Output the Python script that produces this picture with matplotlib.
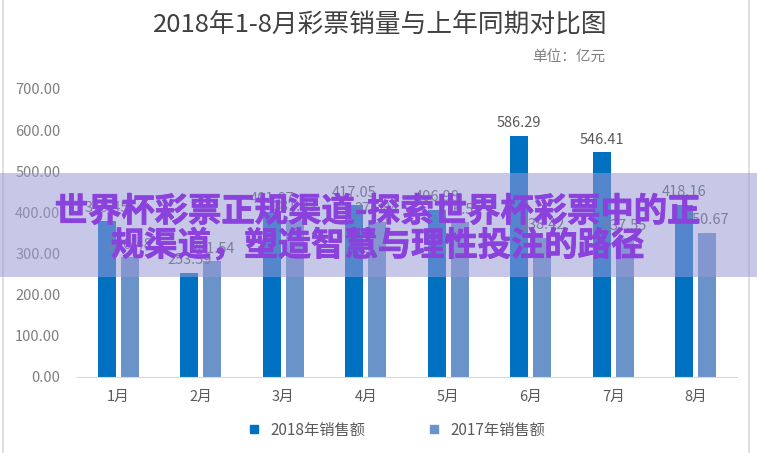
import matplotlib
matplotlib.use("Agg")
import matplotlib.pyplot as plt
import matplotlib.patheffects as pe
import numpy as np
from matplotlib.lines import Line2D
from matplotlib.patches import Rectangle

plt.rcParams["font.family"] = ["Noto Sans CJK SC", "DejaVu Sans"]

months = ["1月", "2月", "3月", "4月", "5月", "6月", "7月", "8月"]
sales_2018 = [379.45, 253.59, 401.87, 417.05, 406.98, 586.29, 546.41, 418.16]
sales_2017 = [290.48, 281.54, 381.93, 376.84, 376.55, 338.42, 337.55, 350.67]
yticks = [0, 100, 200, 300, 400, 500, 600, 700]
title = "2018年1-8月彩票销量与上年同期对比图"
unit = "单位：亿元"
legend_labels = ["2018年销售额", "2017年销售额"]
banner = ["世界杯彩票正规渠道-探索世界杯彩票中的正", "规渠道，塑造智慧与理性投注的路径"]

c2018 = "#0070c0"
c2017 = "#6a93c9"
grey = "#7f7f7f"
purple = "#8b42dc"

W, H = 757, 453
fig = plt.figure(figsize=(W / 100, H / 100), dpi=100)
ax = fig.add_axes([77 / W, 76 / H, 660 / W, 288 / H])

x = np.arange(len(months))
w = 0.22
b1 = ax.bar(x - 0.14, sales_2018, w, color=c2018)
b2 = ax.bar(x + 0.14, sales_2017, w, color=c2017)
for bars in (b1, b2):
    ax.bar_label(bars, fmt="%.2f", padding=4, fontsize=10.5, color="#595959")

ax.set_xlim(-0.5, 7.5)
ax.set_ylim(0, 700)
ax.set_yticks(yticks)
ax.set_yticklabels([f"{v:.2f}" for v in yticks])
ax.set_xticks(x)
ax.set_xticklabels(months)
ax.tick_params(axis="y", length=0, pad=12, labelsize=10.5, labelcolor=grey)
ax.tick_params(axis="x", length=0, pad=9, labelsize=10.5, labelcolor="#595959")
for s in ("top", "right", "left"):
    ax.spines[s].set_visible(False)
ax.spines["bottom"].set_color("#d9d9d9")

fig.text(380 / W, 1 - 25 / H, title, ha="center", va="center",
         fontsize=18.5, color="#404040")
fig.text(605 / W, 1 - 57 / H, unit, ha="right", va="center",
         fontsize=10.5, color=grey)

handles = [Line2D([], [], marker="s", linestyle="", markersize=6, color=c)
           for c in (c2018, c2017)]
fig.legend(handles, legend_labels, loc="center", bbox_to_anchor=(392 / W, 23 / H),
           ncol=2, frameon=False, fontsize=11, handletextpad=0.1,
           columnspacing=3.5, labelcolor="#595959")

# frame lines
for xp in (3, 749):
    fig.add_artist(Line2D([xp / W, xp / W], [0, 1], color="#d9d9d9", lw=1.2))

# overlay banner
fig.patches.append(Rectangle((0, 1 - 277 / H), 1, 104 / H, transform=fig.transFigure,
                             facecolor="#9999d6", alpha=0.55, edgecolor="none", zorder=5))
thick = [pe.withStroke(linewidth=0.6, foreground=purple)]
fig.text(378 / W, 1 - 212 / H, banner[0], ha="center", va="center", fontsize=24,
         fontweight="bold", color=purple, zorder=6, path_effects=thick)
fig.text(378 / W, 1 - 246 / H, banner[1], ha="center", va="center", fontsize=24,
         fontweight="bold", color=purple, zorder=6, path_effects=thick)

fig.savefig("out.png", dpi=100)
